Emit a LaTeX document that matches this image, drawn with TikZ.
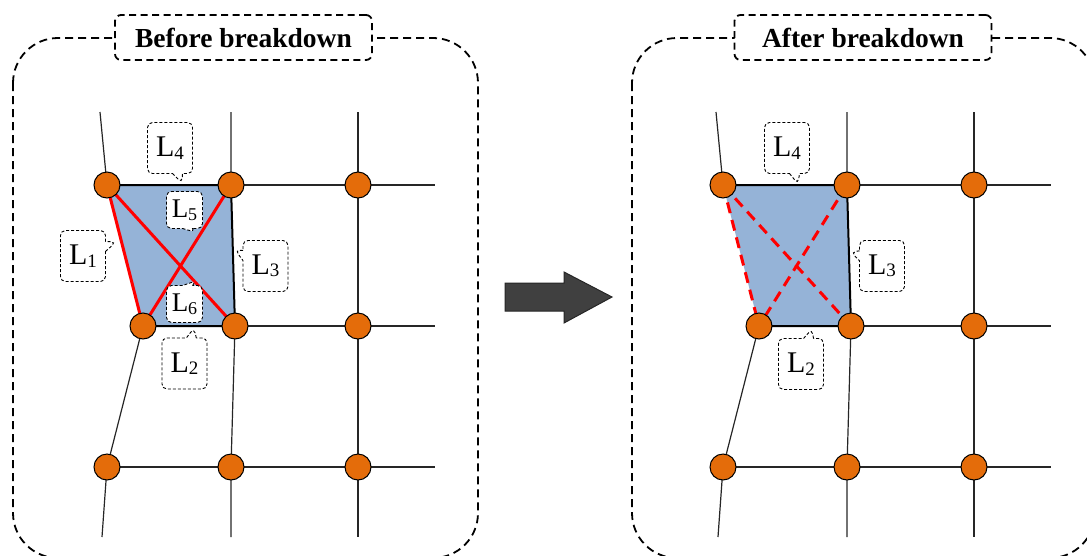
\documentclass[tikz,border=0pt]{standalone}
\usepackage{fontspec}
\setmainfont{Liberation Serif}
\usetikzlibrary{shapes.callouts}

\definecolor{nodeorange}{HTML}{E46C0A}
\definecolor{cellblue}{HTML}{95B3D7}
\definecolor{arrowgray}{HTML}{404040}
\definecolor{linkred}{HTML}{FF0000}

\tikzset{
  panel/.style={draw=black, line width=1.8pt, dash pattern=on 8pt off 5pt, rounded corners=45pt},
  paneltitle/.style={draw, fill=white, line width=1.8pt, dash pattern=on 7pt off 4.5pt,
    rounded corners=6pt, font=\fontsize{27.5}{30}\selectfont\bfseries,
    minimum width=257pt, minimum height=45pt, inner sep=0pt},
  junction/.style={circle, draw=black, line width=1pt, fill=nodeorange, minimum size=26pt, inner sep=0pt},
  wire/.style={draw=black!85, line width=1.2pt},
  edge/.style={line width=2pt},
  link/.style={draw=linkred, line width=3pt},
  brokenlink/.style={link, dash pattern=on 11pt off 7pt},
  tag/.style={rectangle callout, draw, fill=white, line width=0.9pt, dash pattern=on 3pt off 2pt,
    rounded corners=5pt, minimum width=45pt, minimum height=51pt, inner sep=0pt,
    callout pointer width=10pt},
  smalltag/.style={tag, minimum width=36pt, minimum height=37pt},
  bigarrow/.style={fill=arrowgray, draw=black!85, line width=1pt},
}

% link labels: L with a lowered small index
\newcommand\Lbig[1]{\fontsize{30}{30}\selectfont L\lower2.5pt\hbox{\fontsize{19}{19}\selectfont #1}}
\newcommand\Lsmall[1]{\fontsize{27}{27}\selectfont L\lower2.5pt\hbox{\fontsize{18}{18}\selectfont #1}}

% positions, wires and shaded cell of one mesh
\newcommand\meshbase{%
  \coordinate (t1) at (100,112); \coordinate (t2) at (231,112); \coordinate (t3) at (358,112);
  \coordinate (p11) at (107,185); \coordinate (p12) at (231,185); \coordinate (p13) at (358,185); \coordinate (e1) at (435,185);
  \coordinate (p21) at (143,326); \coordinate (p22) at (235,326); \coordinate (p23) at (358,326); \coordinate (e2) at (435,326);
  \coordinate (p31) at (107,467); \coordinate (p32) at (231,467); \coordinate (p33) at (358,467); \coordinate (e3) at (435,467);
  \coordinate (b1) at (102,537); \coordinate (b2) at (231,537); \coordinate (b3) at (358,537);
  \draw[wire] (t1) -- (p11) (p21) -- (p31) -- (b1);
  \draw[wire] (t2) -- (p12) (p22) -- (p32) -- (b2);
  \draw[wire] (t3) -- (p13) -- (p23) -- (p33) -- (b3);
  \draw[wire] (p12) -- (p13) -- (e1);
  \draw[wire] (p22) -- (p23) -- (e2);
  \draw[wire] (p31) -- (p32) -- (p33) -- (e3);
  \fill[cellblue] (p11) -- (p12) -- (p22) -- (p21) -- cycle;
  \draw[edge] (p21) -- (p22) -- (p12) -- (p11);
}
\newcommand\meshjunctions{%
  \foreach \r in {1,2,3}{\foreach \c in {1,2,3}{\node[junction] (n\r\c) at (p\r\c) {};}}%
}

\begin{document}
\begin{tikzpicture}[x=1pt, y=-1pt]
\useasboundingbox (0,0) rectangle (1087,555);

% dashed frames
\draw[panel] (13,38) rectangle (478,558);
\draw[panel] (632,38) rectangle (1095,558);
\node[paneltitle] (before) at (243.5,37.5) {Before breakdown};
\node[paneltitle] (after) at (863,37.5) {After breakdown};

% mesh before breakdown
\begin{scope}[name prefix=B-]
  \meshbase
  \draw[link] (p11) -- (p21);
  \draw[link] (p11) -- (p22);
  \draw[link] (p12) -- (p21);
  \meshjunctions
\end{scope}

% mesh after breakdown
\begin{scope}[xshift=616pt, name prefix=A-]
  \meshbase
  \draw[brokenlink] (p11) -- (p21);
  \draw[brokenlink] (p11) -- (p22);
  \draw[brokenlink] (p12) -- (p21);
  \meshjunctions
\end{scope}

% labels before breakdown
\node[tag, callout absolute pointer={(182,183)}] (l4) at (170,148) {\Lbig4};
\node[smalltag, callout absolute pointer={(195,232)}] (l5) at (184.5,210) {\Lsmall5};
\node[tag, callout absolute pointer={(116,242)}] (l1) at (83,256) {\Lbig1};
\node[tag, callout absolute pointer={(235,250)}] (l3) at (265.5,266) {\Lbig3};
\node[smalltag, callout absolute pointer={(196,281)}] (l6) at (184.5,304) {\Lsmall6};
\node[tag, callout absolute pointer={(194,328)}] (l2) at (184.5,363.5) {\Lbig2};

% labels after breakdown
\node[tag, callout absolute pointer={(798,184)}] (r4) at (787,148) {\Lbig4};
\node[tag, callout absolute pointer={(851,252)}] (r3) at (882,266) {\Lbig3};
\node[tag, callout absolute pointer={(812,329)}] (r2) at (801,364) {\Lbig2};

% transition arrow
\draw[bigarrow] (505,283) -- (564,283) -- (564,272) -- (612,297) -- (564,323) -- (564,311) -- (505,311) -- cycle;
\end{tikzpicture}
\end{document}
